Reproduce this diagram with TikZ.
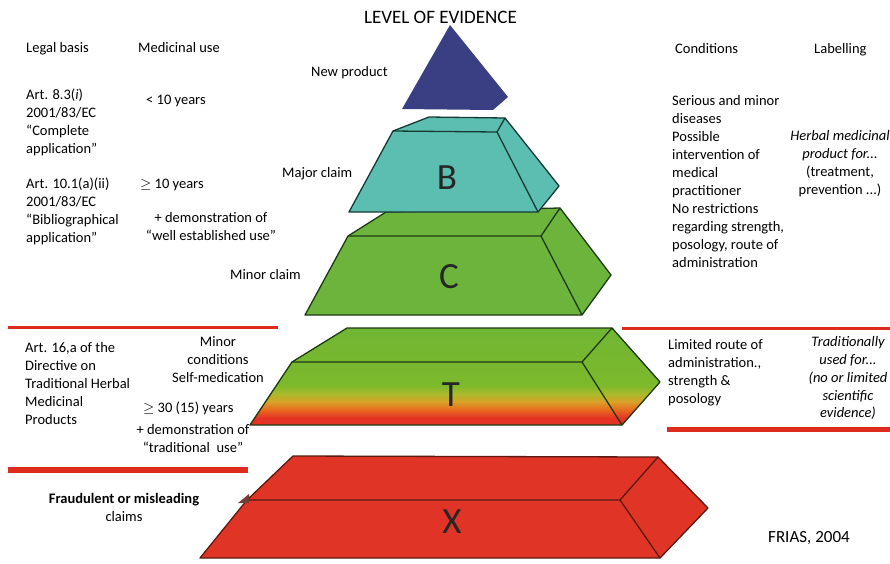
\documentclass[tikz,border=0pt]{standalone}
\usepackage{fontspec}
\setmainfont{Carlito}

\definecolor{apexblue}{RGB}{58,63,131}
\definecolor{tealface}{RGB}{92,190,176}
\definecolor{tealedge}{RGB}{22,58,52}
\definecolor{greenface}{RGB}{108,180,60}
\definecolor{greenedge}{RGB}{30,58,20}
\definecolor{redface}{RGB}{224,52,39}
\definecolor{rededge}{RGB}{90,26,18}
\definecolor{rule}{RGB}{221,43,30}
\definecolor{tgreen}{RGB}{112,182,52}
\definecolor{tlime}{RGB}{124,185,43}
\definecolor{tyellow}{RGB}{170,186,44}
\definecolor{tamber}{RGB}{217,160,39}
\definecolor{torange}{RGB}{232,103,31}
\definecolor{tred}{RGB}{228,50,37}

% green-to-red fade of the T tier (stops lie in the 25bp..75bp band)
\pgfdeclareverticalshading{tfade}{100bp}{%
  color(0bp)=(tred); color(28.6bp)=(tred); color(32.7bp)=(torange);
  color(36.9bp)=(tamber); color(41bp)=(tyellow); color(45.5bp)=(tlime);
  color(75bp)=(tgreen); color(100bp)=(tgreen)}

\begin{document}
\begin{tikzpicture}[x=1pt,y=-1pt,
  body/.style={font=\fontsize{14.5}{17.9}\selectfont,inner sep=0pt},
  blockL/.style={body,align=left,anchor=north west},
  blockC/.style={body,align=center,anchor=north},
  oneline/.style={body,anchor=base west},
  tierletter/.style={font=\fontsize{37}{37}\selectfont,inner sep=0pt,text=black!85},
  edge/.style={line width=1.3pt,line join=round},
  redrule/.style={draw=rule,line width=#1}]
\useasboundingbox[fill=white] (0,0) rectangle (890,563);

% ---------- apex ----------
\fill[apexblue] (450,25) -- (402,109) -- (493,110) -- (508,97) -- cycle;

% ---------- tier C (behind B) ----------
\coordinate (cbl) at (386,212); \coordinate (cbr) at (560,208);
\coordinate (cfl) at (348,236); \coordinate (cfr) at (541,236);
\coordinate (cdl) at (305,315); \coordinate (cdr) at (582,315);
\coordinate (ctip) at (611,275);
\filldraw[greenface,draw=greenedge,edge] (cdl) -- (cfl) -- (cbl) -- (cbr) -- (ctip) -- (cdr) -- cycle;
\draw[greenedge,edge] (cfl) -- (cfr) -- (cbr) (cfr) -- (cdr);

% ---------- tier B ----------
\coordinate (bbl) at (429,117); \coordinate (bbr) at (505,118);
\coordinate (bfl) at (393,131); \coordinate (bfr) at (497,132);
\coordinate (bdl) at (349,212); \coordinate (bdr) at (538,212);
\coordinate (btip) at (559,186);
\filldraw[tealface,draw=tealedge,edge] (bdl) -- (bfl) -- (bbl) -- (bbr) -- (btip) -- (bdr) -- cycle;
\draw[tealedge,edge] (bfl) -- (bfr) -- (bbr) (bfr) -- (bdr);

% ---------- tier T ----------
\coordinate (tbl) at (347,328); \coordinate (tbr) at (612,328);
\coordinate (tfl) at (292,362); \coordinate (tfr) at (582,362);
\coordinate (tdl) at (250,425); \coordinate (tdr) at (622,425);
\coordinate (ttip) at (660,382);
\shade[shading=tfade] (tdl) -- (tfl) -- (tbl) -- (tbr) -- (ttip) -- (tdr) -- cycle;
\draw[greenedge,edge] (tdl) -- (tfl) -- (tbl) -- (tbr) -- (ttip) -- (tdr) -- cycle;
\draw[greenedge,edge] (tfl) -- (tfr) -- (tbr) (tfr) -- (tdr);

% ---------- tier X ----------
\coordinate (xbl) at (293,456); \coordinate (xbr) at (658,457);
\coordinate (xfl) at (247,500); \coordinate (xfr) at (620,500);
\coordinate (xdl) at (200,558); \coordinate (xdr) at (660,558);
\coordinate (xtip) at (708,508);
\filldraw[redface,draw=rededge,edge] (xdl) -- (xfl) -- (xbl) -- (xbr) -- (xtip) -- (xdr) -- cycle;
\draw[rededge,edge] (xfl) -- (xfr) -- (xbr) (xfr) -- (xdr);
\fill[rededge!85] (238,503) -- (249,494) -- (249,503) -- cycle;

% ---------- tier letters ----------
\node[tierletter] (lb) at (447,178) {B};
\node[tierletter] (lc) at (449,277) {C};
\node[tierletter] (lt) at (451,395) {T};
\node[tierletter] (lx) at (452,522) {X};

% ---------- separating rules ----------
\coordinate (r1a) at (8,327);   \coordinate (r1b) at (278,327);
\coordinate (r2a) at (622,328); \coordinate (r2b) at (890,328);
\coordinate (r3a) at (8,470);   \coordinate (r3b) at (248,470);
\coordinate (r4a) at (667,429); \coordinate (r4b) at (890,429);
\draw[redrule=3pt] (r1a) -- (r1b);
\draw[redrule=3pt] (r2a) -- (r2b);
\draw[redrule=6pt] (r3a) -- (r3b);
\draw[redrule=5pt] (r4a) -- (r4b);

% ---------- headings ----------
\node[font=\fontsize{19}{19}\selectfont,inner sep=0pt,anchor=base] (title) at (440.5,23) {LEVEL OF EVIDENCE};
\node[oneline] (hlegal) at (26,52) {Legal basis};
\node[oneline] (hmed) at (138,52) {Medicinal use};
\node[oneline] (hcond) at (675,53) {Conditions};
\node[oneline] (hlab) at (814,53) {Labelling};

% ---------- left column ----------
\node[blockL] (art83) at (26,88.5) {Art. 8.3(\textit{i})\\2001/83/EC\\“Complete\\application”};
\node[oneline] (lt10) at (146,104) {< 10 years};
\node[blockL] (art101) at (26,177.5) {Art. 10.1(a)(ii)\\2001/83/EC\\“Bibliographical\\application”};
\node[oneline] (ge10) at (140,188) {$\geq$ 10 years};
\node[blockC] (demo1) at (211,212.5) {+ demonstration of\\“well established use”};

\node[blockL] (art16) at (25,342.5) {Art. 16,a of the\\Directive on\\Traditional Herbal\\Medicinal\\Products};
\node[blockC] (minorcond) at (218,336.5) {Minor\\conditions\\Self-medication};
\node[oneline] (ge30) at (143,412) {$\geq$ 30 (15) years};
\node[blockC] (demo2) at (193,424.5) {+ demonstration of\\“traditional\ \ use”};
\node[blockC] (fraud) at (124,493.5) {\textbf{Fraudulent or misleading}\\claims};

% ---------- claim labels ----------
\node[oneline] (newprod) at (311,76) {New product};
\node[oneline] (major) at (282,177) {Major claim};
\node[oneline] (minor) at (230,279) {Minor claim};

% ---------- right column ----------
\node[blockL,font=\fontsize{14.5}{18}\selectfont] (cond) at (672,95.5) {Serious and minor\\diseases\\Possible\\intervention of\\medical\\practitioner\\No restrictions\\regarding strength,\\posology, route of\\administration};
\node[blockC,font=\fontsize{14.5}{18}\selectfont] (label) at (840,130.5) {\textit{Herbal medicinal}\\\textit{product for...}\\(treatment,\\prevention ...)};
\node[blockL] (limited) at (668,339.5) {Limited route of\\administration.,\\strength \&\\posology};
\node[blockC,font=\itshape\fontsize{14.5}{17.8}\selectfont] (trad) at (848,336.5) {Traditionally\\used for...\\(no or limited\\scientific\\evidence)};

\node[font=\fontsize{17}{17}\selectfont,inner sep=0pt,anchor=base west] (frias) at (768,542) {FRIAS, 2004};
\end{tikzpicture}
\end{document}
